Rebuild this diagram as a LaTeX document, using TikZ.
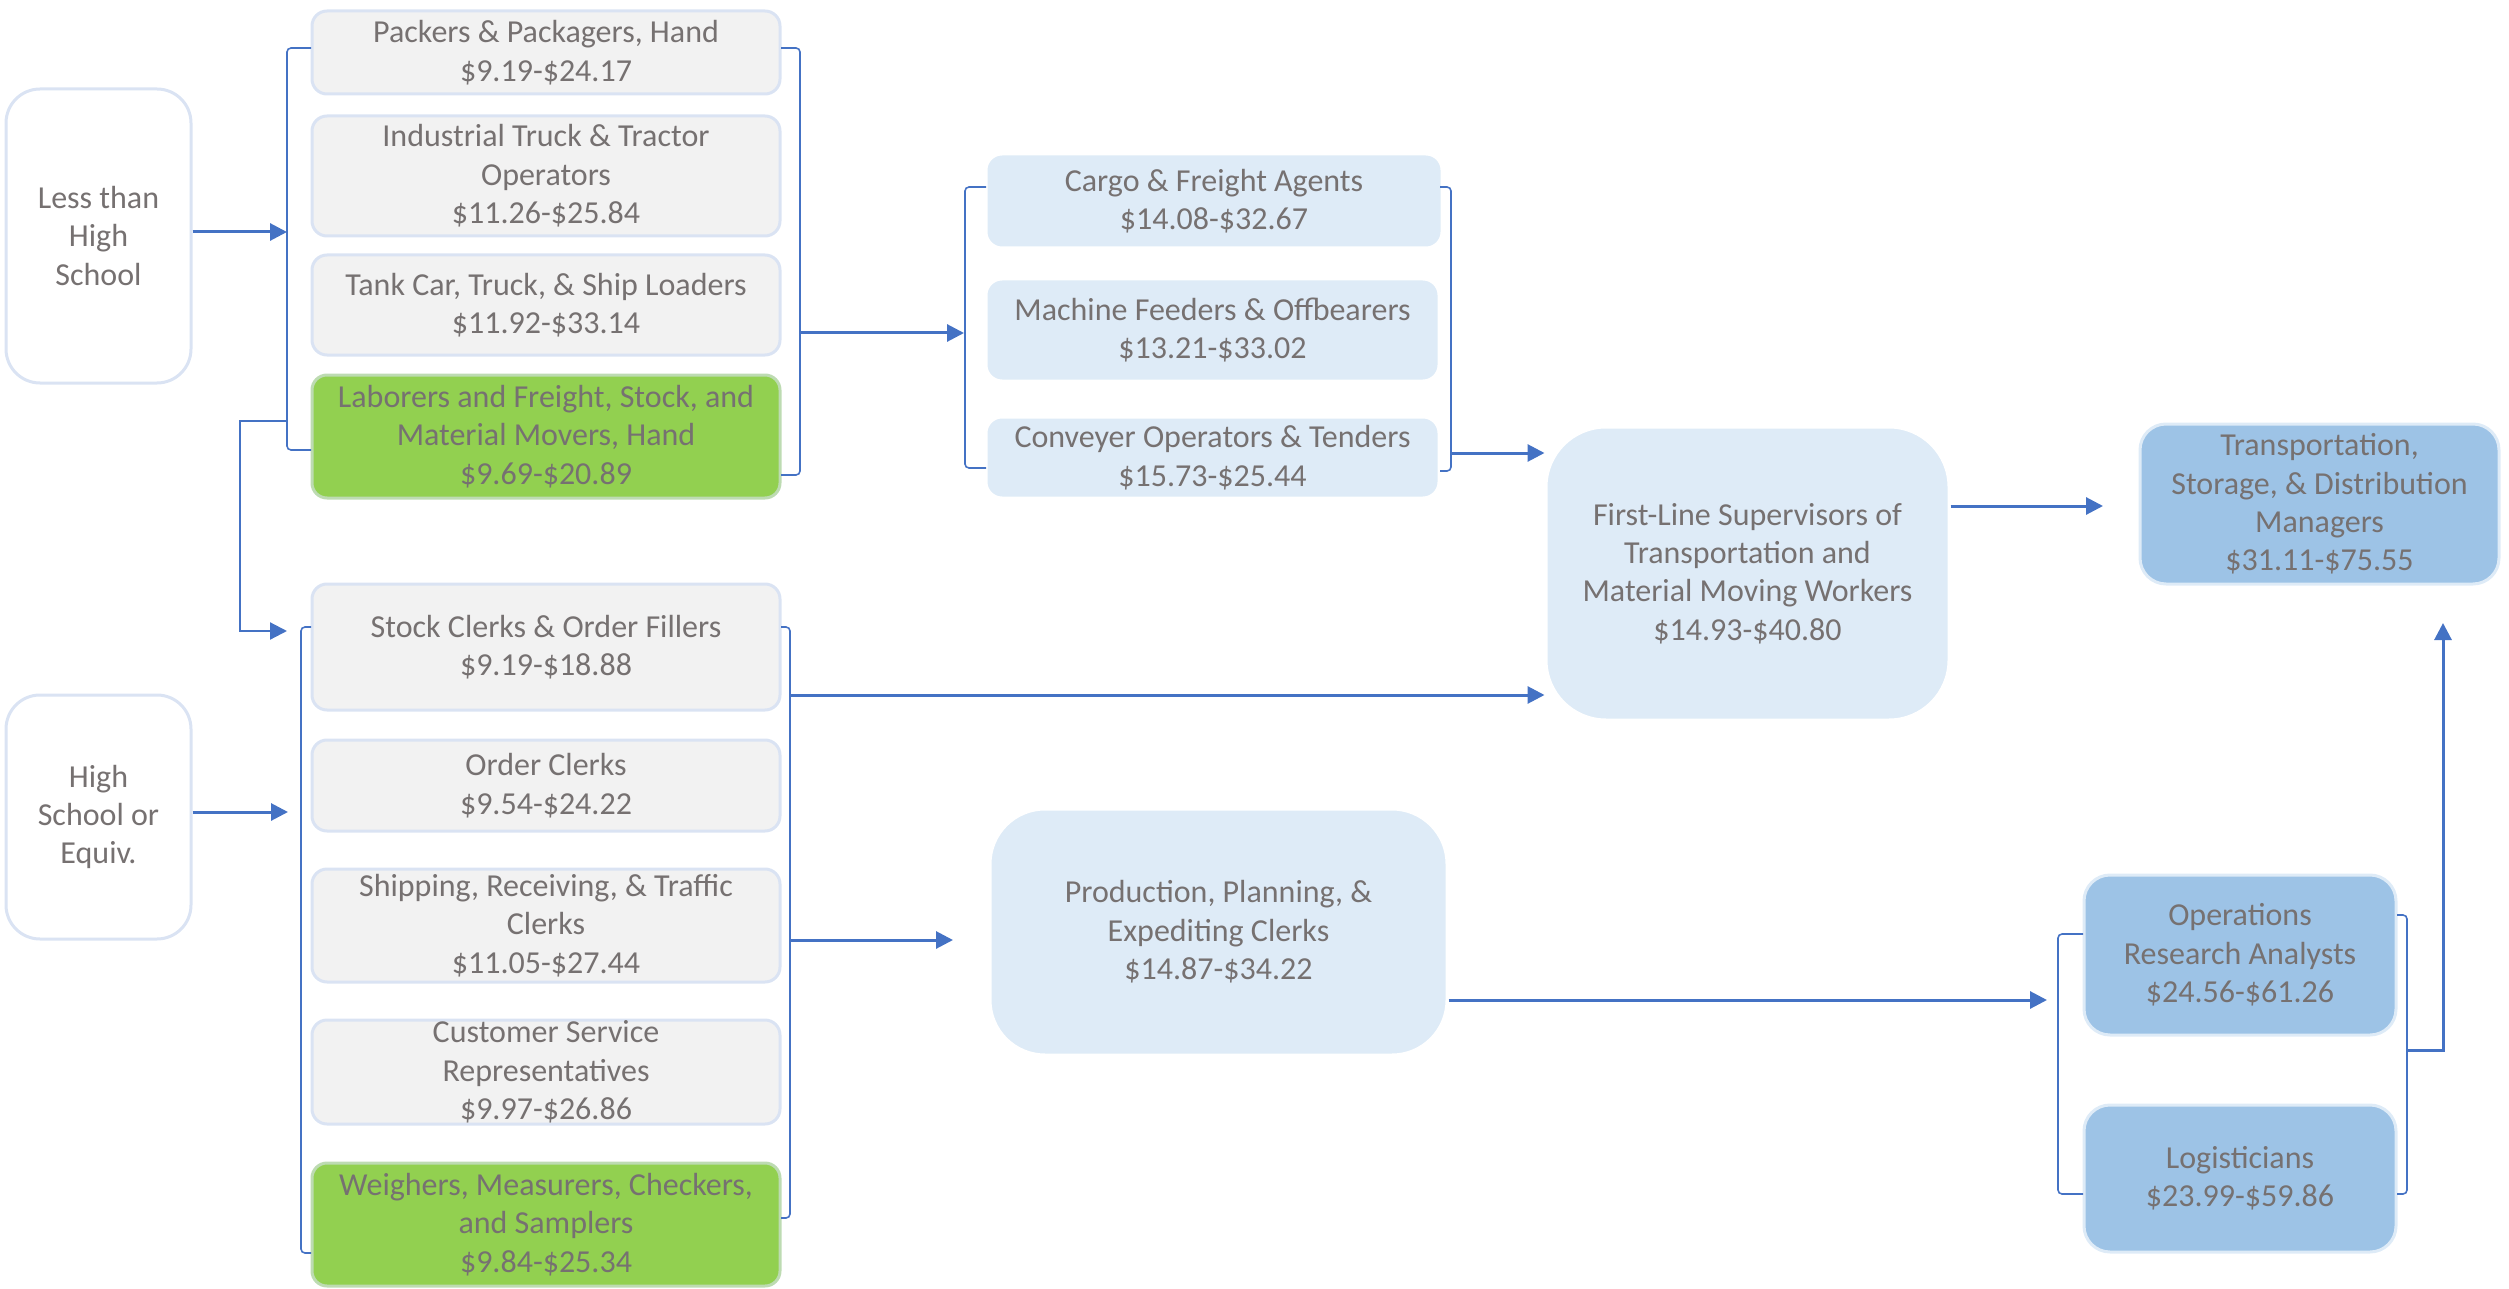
\documentclass[tikz,border=0pt]{standalone}
\usepackage{fontspec}
\setmainfont{Carlito}
\usetikzlibrary{arrows.meta}
\definecolor{txtgray}{HTML}{767171}
\definecolor{lineblue}{HTML}{4472C4}
\definecolor{edgeblue}{HTML}{DAE3F3}
\definecolor{fillgray}{HTML}{F2F2F2}
\definecolor{fillgreen}{HTML}{92D050}
\definecolor{filllight}{HTML}{DEEBF7}
\definecolor{fillmid}{HTML}{9DC3E6}
\tikzset{
  cell/.style={rectangle, align=center, inner sep=0pt, text=txtgray,
    font=\fontsize{32}{38.4}\selectfont, line width=3pt},
  edubox/.style={cell, draw=edgeblue, fill=white, rounded corners=34pt,
    minimum width=185pt},
  graybox/.style={cell, draw=edgeblue, fill=fillgray, rounded corners=15pt,
    minimum width=468pt},
  greenbox/.style={cell, draw=edgeblue!60!fillgreen, fill=fillgreen, rounded corners=15pt,
    minimum width=468pt},
  lightbox/.style={cell, draw=white, fill=filllight, rounded corners=16pt},
  bigbox/.style={cell, draw=white, fill=filllight, rounded corners=55pt},
  midbox/.style={cell, draw=filllight, fill=fillmid, rounded corners=26pt},
  arr/.style={draw=lineblue, line width=3pt, -{Triangle[length=17pt,width=17pt]}},
  thinarr/.style={draw=lineblue, line width=2.2pt, -{Triangle[length=17pt,width=17pt]}},
  brk/.style={draw=lineblue, line width=1.6pt, rounded corners=4pt},
}
\begin{document}
\begin{tikzpicture}[x=1pt,y=-1pt]
\useasboundingbox (0,0) rectangle (2509,1289);

% education level boxes
\node[edubox, minimum height=294pt] (lhs) at (98.5,236) {Less than\\High\\School};
\node[edubox, minimum height=244pt] (hse) at (98.5,817) {High\\School or\\Equiv.};

% first column, group 1
\node[graybox, minimum height=83pt] (pack) at (546,52.5) {Packers \& Packagers, Hand\\\$9.19-\$24.17};
\node[graybox, minimum height=120pt] (ind) at (546,176) {Industrial Truck \& Tractor\\Operators\\\$11.26-\$25.84};
\node[graybox, minimum height=100pt] (tank) at (546,305) {Tank Car, Truck, \& Ship Loaders\\\$11.92-\$33.14};
\node[greenbox, minimum height=123pt] (lab) at (546,436.5) {Laborers and Freight, Stock, and\\Material Movers, Hand\\\$9.69-\$20.89};

% first column, group 2
\node[graybox, minimum height=126pt] (stock) at (546,647) {Stock Clerks \& Order Fillers\\\$9.19-\$18.88};
\node[graybox, minimum height=91pt] (order) at (546,785.5) {Order Clerks\\\$9.54-\$24.22};
\node[graybox, minimum height=113pt] (ship) at (546,925.5) {Shipping, Receiving, \& Traffic\\Clerks\\\$11.05-\$27.44};
\node[graybox, minimum height=104pt] (cust) at (546,1072) {Customer Service\\Representatives\\\$9.97-\$26.86};
\node[greenbox, minimum height=123pt] (weigh) at (546,1224.5) {Weighers, Measurers, Checkers,\\and Samplers\\\$9.84-\$25.34};

% second column
\node[lightbox, minimum width=456pt, minimum height=94pt] (cargo) at (1214,201) {Cargo \& Freight Agents\\\$14.08-\$32.67};
\node[lightbox, minimum width=453pt, minimum height=102pt] (mach) at (1212.5,330) {Machine Feeders \& Offbearers\\\$13.21-\$33.02};
\node[lightbox, minimum width=453pt, minimum height=81pt] (conv) at (1212.5,457.5) {Conveyer Operators \& Tenders\\\$15.73-\$25.44};
\node[bigbox, minimum width=457pt, minimum height=246pt] (prod) at (1218.5,932) {Production, Planning, \&\\Expediting Clerks\\\$14.87-\$34.22};

% third column
\node[bigbox, minimum width=403pt, minimum height=293pt, rounded corners=60pt] (first) at (1747.5,573.5) {First-Line Supervisors of\\Transportation and\\Material Moving Workers\\\$14.93-\$40.80};

% right column
\node[midbox, minimum width=359pt, minimum height=160pt] (tsd) at (2319.5,504) {Transportation,\\Storage, \& Distribution\\Managers\\\$31.11-\$75.55};
\node[midbox, minimum width=312pt, minimum height=160pt] (ops) at (2240,955) {Operations\\Research Analysts\\\$24.56-\$61.26};
\node[midbox, minimum width=312pt, minimum height=147pt] (logi) at (2240,1178.5) {Logisticians\\\$23.99-\$59.86};

% brackets
\draw[brk] (311,48) -- (287,48) -- (287,450) -- (311,450);
\draw[brk] (781,48) -- (800,48) -- (800,475) -- (781,475);
\draw[brk] (311,627) -- (301,627) -- (301,1253) -- (311,1253);
\draw[brk] (781,627) -- (790,627) -- (790,1218) -- (781,1218);
\draw[brk] (986,187) -- (965,187) -- (965,468) -- (986,468);
\draw[brk] (1440,187) -- (1451,187) -- (1451,471) -- (1440,471);
\draw[brk] (2083,934) -- (2058,934) -- (2058,1194) -- (2083,1194);
\draw[brk] (2397,915) -- (2407,915) -- (2407,1194) -- (2397,1194);

% bracket connection points
\coordinate (b1in) at (287,232);
\coordinate (b1out) at (800,333);
\coordinate (b1low) at (287,421);
\coordinate (b2in) at (287,631);
\coordinate (b2hs) at (288,812);
\coordinate (b2outA) at (790,695);
\coordinate (b2outB) at (790,940);
\coordinate (b3in) at (964,333);
\coordinate (b3out) at (1451,453);
\coordinate (prodin) at (953,940);
\coordinate (b4in) at (2047,1000);
\coordinate (b4out) at (2407,1050);
\coordinate (tsdin) at (2103,506);
\coordinate (tsdup) at (2443,623);

% connectors
\draw[arr] (lhs.east |- b1in) -- (b1in);
\draw[arr] (hse.east |- b2hs) -- (b2hs);
\draw[thinarr] (b1low) -- (240,421) -- (240,631) -- (b2in);
\draw[arr] (b1out) -- (b3in);
\draw[arr] (b3out) -- (first.west |- b3out);
\draw[arr] (b2outA) -- (first.west |- b2outA);
\draw[arr] (b2outB) -- (prodin);
\draw[arr] (prod.east |- b4in) -- (b4in);
\draw[arr] (first.east |- tsdin) -- (tsdin);
\draw[arr] (b4out) -| (tsdup);
\end{tikzpicture}
\end{document}
